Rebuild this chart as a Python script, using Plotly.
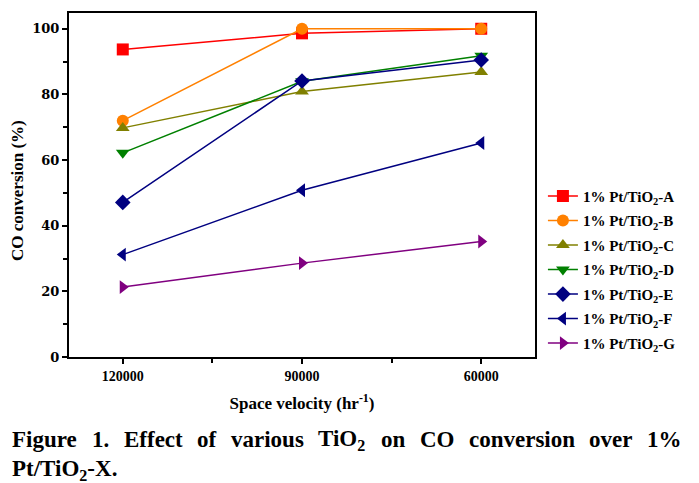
import plotly.graph_objects as go

space_velocity = ["120000", "90000", "60000"]
series_names = ["1% Pt/TiO<sub>2</sub>-A", "1% Pt/TiO<sub>2</sub>-B", "1% Pt/TiO<sub>2</sub>-C",
                "1% Pt/TiO<sub>2</sub>-D", "1% Pt/TiO<sub>2</sub>-E", "1% Pt/TiO<sub>2</sub>-F",
                "1% Pt/TiO<sub>2</sub>-G"]
conv_A = [93.7, 98.6, 100.0]
conv_B = [72.0, 100.0, 100.0]
conv_C = [69.8, 80.9, 86.8]
conv_D = [62.2, 84.0, 91.8]
conv_E = [47.1, 84.1, 90.5]
conv_F = [31.2, 50.8, 65.2]
conv_G = [21.3, 28.6, 35.2]
y_ticks = [0, 20, 40, 60, 80, 100]

series_values = [conv_A, conv_B, conv_C, conv_D, conv_E, conv_F, conv_G]
colors = ["#FF0000", "#FF8000", "#808000", "#008000", "#000080", "#000080", "#800080"]
symbols = ["square", "circle", "triangle-up", "triangle-down", "diamond", "triangle-left", "triangle-right"]

FONT = "Liberation Serif"
xs = list(range(len(space_velocity)))

fig = go.Figure()
for i, (name, vals, c, s) in enumerate(zip(series_names, series_values, colors, symbols)):
    fig.add_trace(go.Scatter(
        x=xs, y=vals, name=name, mode="lines+markers", legendgroup=f"g{i}",
        line=dict(color=c, width=1.5),
        marker=dict(symbol=s, size=12, color=c, line=dict(width=0)),
    ))

# page has an 8px body margin: figure drawn at page offset (8, 8)
fig.update_layout(
    width=691, height=475,
    margin=dict(l=61, r=164, t=3, b=126),
    paper_bgcolor="white", plot_bgcolor="white",
    font=dict(family=FONT, color="black"),
    showlegend=True,
    legend=dict(x=1.017, y=0.515, xanchor="left", yanchor="top",
                font=dict(family=FONT, size=15, color="black", weight="bold"),
                bgcolor="rgba(0,0,0,0)", tracegroupgap=2, itemwidth=30),
)

fig.update_xaxes(
    range=[-0.3, 2.3], tickmode="array", tickvals=xs, ticktext=space_velocity,
    showline=True, linecolor="black", linewidth=2, mirror=True,
    ticks="outside", ticklen=5, tickwidth=1.5, tickcolor="black",
    minor=dict(tickmode="array", tickvals=[0.5, 1.5], ticklen=4, tickwidth=1.5, tickcolor="black", ticks="outside"),
    showgrid=False, zeroline=False,
    tickfont=dict(family=FONT, size=14, weight="bold"),
    title=dict(text="Space velocity (hr<sup>-1</sup>)", font=dict(family=FONT, size=17, weight="bold"), standoff=14),
)
fig.update_yaxes(
    range=[0, 104.8], tickmode="array", tickvals=y_ticks,
    showline=True, linecolor="black", linewidth=2, mirror=True,
    ticks="outside", ticklen=5, tickwidth=1.5, tickcolor="black",
    minor=dict(dtick=10, tick0=0, ticklen=4, tickwidth=1.5, tickcolor="black", ticks="outside"),
    showgrid=False, zeroline=False,
    tickfont=dict(family="DejaVu Serif", size=13, weight="bold"),
)

# y-axis title as annotation (page center ~ (18, 190))
fig.add_annotation(text="CO conversion (%)", x=(18 - 69) / 466, y=(357 - 190) / 346,
                   xref="paper", yref="paper", xanchor="center", yanchor="middle",
                   textangle=-90, showarrow=False,
                   font=dict(family=FONT, size=17, weight="bold", color="black"))

# Caption: justified first line (word widths from Times-Bold metrics, per 1000 em)
CAP_SIZE = 23
cap_words = ["Figure", "1.", "Effect", "of", "various", "TiO<sub>2</sub>", "on", "CO", "conversion", "over", "1%"]
cap_widths_em = [2833, 750, 2554, 833, 3167, 2073, 1056, 1500, 4611, 1888, 1500]
line_left, line_right = 10, 680
widths_px = [w / 1000 * CAP_SIZE for w in cap_widths_em]
gap = (line_right - line_left - sum(widths_px)) / (len(cap_words) - 1)
cur = line_left
for w, wpx in zip(cap_words, widths_px):
    fig.add_annotation(text=w, x=(cur - 69) / 466, y=(357 - 440) / 346, xref="paper", yref="paper",
                       xanchor="left", yanchor="middle", showarrow=False,
                       font=dict(family=FONT, size=CAP_SIZE, weight="bold", color="black"))
    cur += wpx + gap
fig.add_annotation(text="Pt/TiO<sub>2</sub>-X.", x=(10 - 69) / 466, y=(357 - 471) / 346,
                   xref="paper", yref="paper", xanchor="left", yanchor="middle", showarrow=False,
                   font=dict(family=FONT, size=CAP_SIZE, weight="bold", color="black"))

fig.write_html("out.html")
